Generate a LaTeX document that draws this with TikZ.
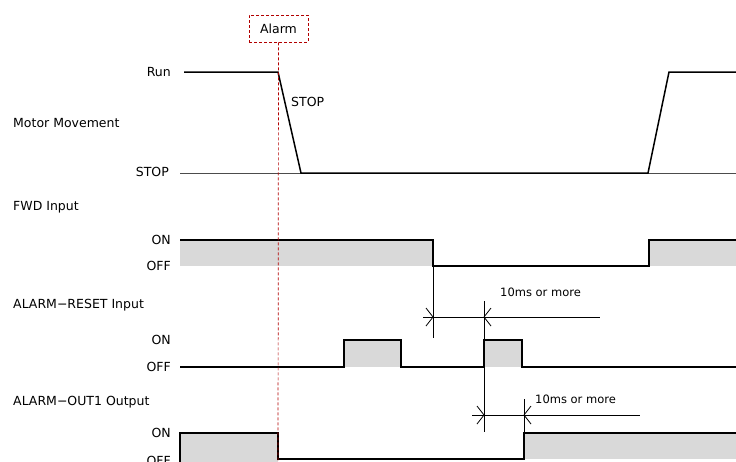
\documentclass[tikz,border=0pt]{standalone}
\usepackage{fontspec}
\setmainfont{DejaVu Sans}
\begin{document}
\begin{tikzpicture}[x=1pt,y=-1pt,
  lbl/.style={font=\fontsize{12.5}{14}\selectfont, inner sep=0pt},
  sig/.style={line width=1.5pt, black, line join=miter},
  hi/.style={fill=black!15, draw=none},
  dim/.style={line width=0.8pt, black},
  alarmline/.style={draw=red!70!black, line width=0.7pt, dash pattern=on 3pt off 2pt}]
\useasboundingbox (0,0) rectangle (736,461);
% Labels
\node[lbl, anchor=west] (mm) at (13,123) {Motor Movement};
\node[lbl, anchor=west] (fwd) at (13,207) {FWD Input};
\node[lbl, anchor=west] (ar) at (13,305) {ALARM−RESET Input};
\node[lbl, anchor=west] (ao) at (13,402) {ALARM−OUT1 Output};
\node[lbl, anchor=east] (run) at (171,72) {Run};
\node[lbl, anchor=east] (stopl) at (169,172) {STOP};
\node[lbl, anchor=east] (on1) at (171,240) {ON};
\node[lbl, anchor=east] (off1) at (171,266) {OFF};
\node[lbl, anchor=east] (on2) at (171,340) {ON};
\node[lbl, anchor=east] (off2) at (171,367) {OFF};
\node[lbl, anchor=east] (on3) at (171,433) {ON};
\node[lbl, anchor=east] (off3) at (171,461) {OFF};
\node[lbl, anchor=west] (stopm) at (291,102) {STOP};
% Motor movement
\draw[line width=0.6pt, black!70] (180,173) -- (736,173);
\draw[sig] (184,72) -- (278,72) -- (301,173) -- (648,173) -- (669,72) -- (736,72);
% FWD input
\fill[hi] (180,240) rectangle (433,266);
\fill[hi] (649,240) rectangle (736,266);
\draw[sig] (180,240) -- (433,240) -- (433,266) -- (649,266) -- (649,240) -- (736,240);
% ALARM-RESET input
\fill[hi] (344,340) rectangle (401,367);
\fill[hi] (484,340) rectangle (522,367);
\draw[sig] (180,367) -- (344,367) -- (344,340) -- (401,340) -- (401,367) -- (484,367) -- (484,340) -- (522,340) -- (522,367) -- (736,367);
% ALARM-OUT1 output
\fill[hi] (180,433) rectangle (278,470);
\fill[hi] (524,433) rectangle (736,459);
\draw[sig] (180,470) -- (180,433) -- (278,433) -- (278,459) -- (524,459) -- (524,433) -- (736,433);
% Alarm box and line
\node[lbl, draw=red!70!black, dash pattern=on 3pt off 2pt, line width=0.7pt, minimum width=59pt, minimum height=27pt] (alarm) at (278.5,28.5) {Alarm};
\coordinate (abot) at (278,461);
\draw[alarmline] (alarm.south) -- (abot);
% Dimension 1
\coordinate (d1a) at (433,317);
\coordinate (d1b) at (484,317);
\coordinate (d1l) at (423,317);
\coordinate (d1r) at (600,317);
\draw[dim] (433,266) -- (433,338);
\draw[dim] (484,301) -- (484,432);
\draw[dim] (d1l) -- (d1r);
\draw[dim] (d1a) ++(-7,-9) -- (d1a) -- ++(-7,9);
\draw[dim] (d1b) ++(7,-9) -- (d1b) -- ++(7,9);
\node[lbl, anchor=west, font=\fontsize{11.5}{13}\selectfont] (t1) at (500,292) {10ms or more};
% Dimension 2
\coordinate (d2a) at (484,415);
\coordinate (d2b) at (524,415);
\coordinate (d2l) at (472,415);
\coordinate (d2r) at (640,415);
\draw[dim] (524,399) -- (524,433);
\draw[dim] (d2l) -- (d2r);
\draw[dim] (d2a) ++(-7,-9) -- (d2a) -- ++(-7,9);
\draw[dim] (d2b) ++(7,-9) -- (d2b) -- ++(7,9);
\node[lbl, anchor=west, font=\fontsize{11.5}{13}\selectfont] (t2) at (535,399) {10ms or more};
\end{tikzpicture}
\end{document}
